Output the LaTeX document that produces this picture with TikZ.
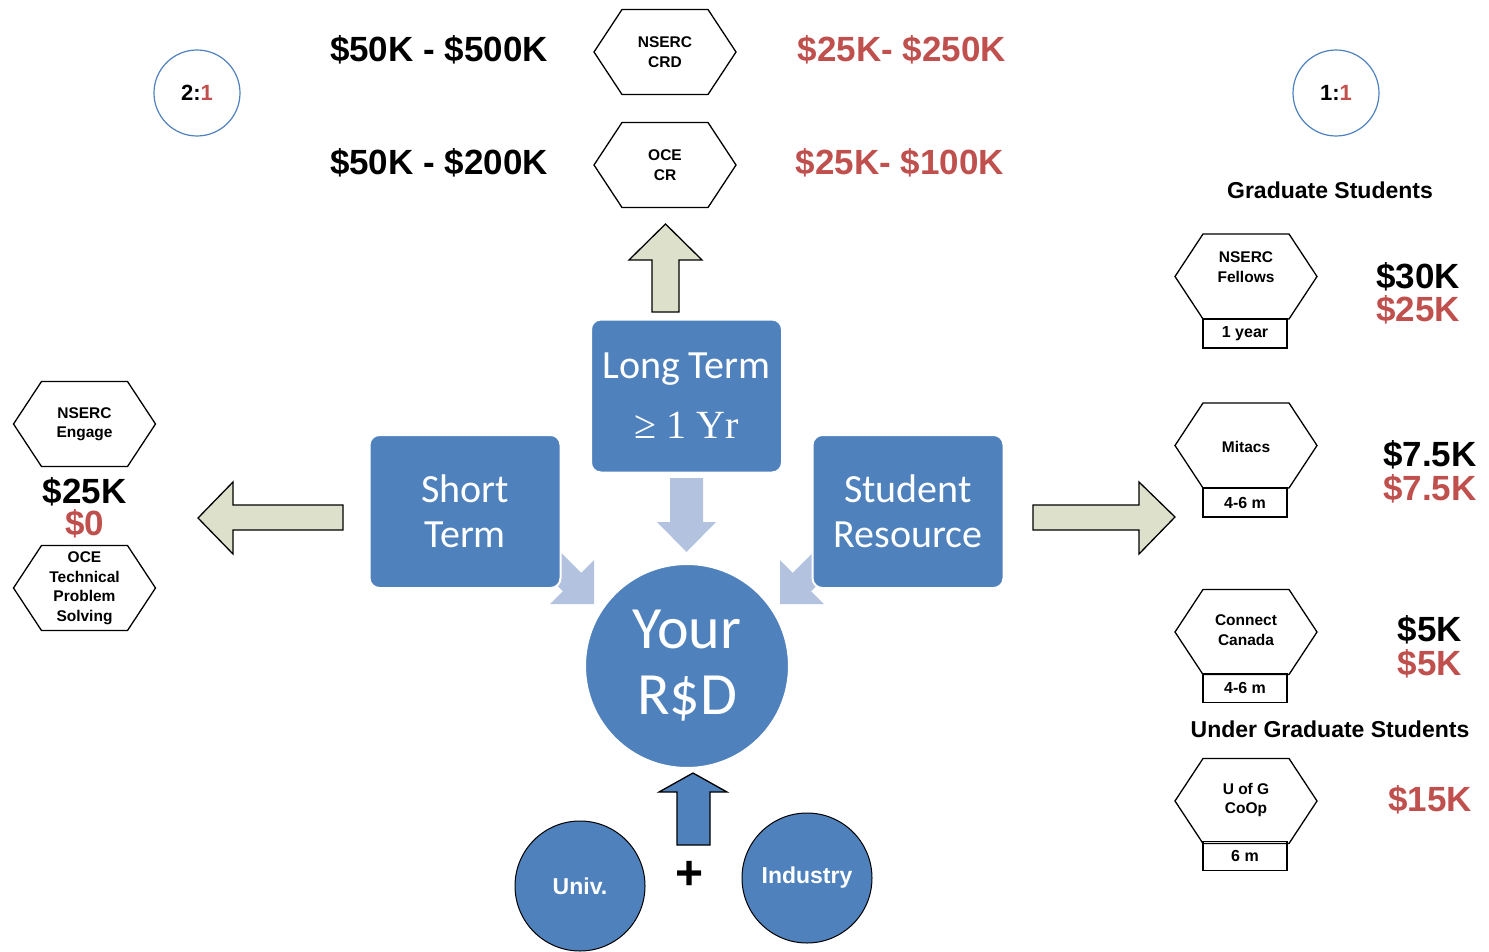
\documentclass[tikz,border=0pt]{standalone}
\usepackage{fontspec}
\setmainfont{Liberation Sans}
\newfontfamily\calib{Carlito}
\newfontfamily\tms{Liberation Serif}
\definecolor{sblue}{HTML}{4F81BD}
\definecolor{lblue}{HTML}{B3C3DF}
\definecolor{sred}{HTML}{C0504D}
\definecolor{sgreen}{HTML}{DDE0CA}
\newcommand\myhex[5]{%
  \draw[hexline] (#2,#3) ++(-71,0) -- ++(28,42.5) -- ++(86,0) -- ++(28,-42.5) -- ++(-28,-42.5) -- ++(-86,0) -- cycle;
  \node[hextext] (#1) at (#2,#3+#4) {#5};}
\begin{document}
\begin{tikzpicture}[x=1pt,y=1pt,
  big/.style={font=\fontsize{35}{40}\selectfont\bfseries, inner sep=0},
  bigred/.style={big, text=sred},
  hdr/.style={font=\fontsize{23}{27}\selectfont\bfseries, inner sep=0},
  hexline/.style={draw=black, line width=1.3, fill=white},
  hextext/.style={font=\fontsize{15.5}{19.5}\selectfont\bfseries, align=center, inner sep=0},
  durbox/.style={draw=black, line width=1.3, minimum width=84, minimum height=29, inner sep=0, font=\fontsize{16}{18}\selectfont\bfseries},
  ratio/.style={circle, draw=sblue, line width=1.2, minimum size=86, inner sep=0, font=\fontsize{22}{26}\selectfont\bfseries},
  bluebox/.style={rounded corners=10, fill=sblue, draw=white, line width=2, minimum width=191, minimum height=153, inner sep=0, text=white, align=center},
  bluecirc/.style={circle, fill=sblue, draw=black, line width=1, minimum size=130, inner sep=0, text=white, font=\fontsize{23}{27}\selectfont\bfseries},
  greenarrow/.style={fill=sgreen, draw=black, line width=1.3, line join=miter},
  lightarrow/.style={fill=lblue, draw=none},
  bluearrow/.style={fill=sblue, draw=black, line width=1.3, line join=miter}
]
\useasboundingbox (0,0) rectangle (1489,-952);

% ratio circles
\node[ratio] (r21) at (197,-93) {2:\textcolor{sred}{1}};
\node[ratio] (r11) at (1336,-93) {1:\textcolor{sred}{1}};

% top amounts and hexagons
\node[big] (crdA) at (439,-50) {\$50K - \$500K};
\node[big] (crA) at (439,-163) {\$50K - \$200K};
\myhex{crd}{665}{-52}{0}{NSERC\\CRD}
\myhex{cr}{665}{-165}{0}{OCE\\CR}
\node[bigred] (crdB) at (902,-50) {\$25K- \$250K};
\node[bigred] (crB) at (900,-163) {\$25K- \$100K};

% green up arrow
\draw[greenarrow] (652,-312) -- (652,-260) -- (629,-260) -- (665.5,-224) -- (702,-260) -- (679,-260) -- (679,-312) -- cycle;

% light arrows into the centre
\fill[lightarrow, shift={(594,-604)}, rotate=-45] (0,0) -- (-31,31) -- (-31,13) -- (-95,13) -- (-95,-13) -- (-31,-13) -- (-31,-31) -- cycle;
\fill[lightarrow, shift={(780,-604)}, rotate=-135] (0,0) -- (-31,31) -- (-31,13) -- (-95,13) -- (-95,-13) -- (-31,-13) -- (-31,-31) -- cycle;
\fill[lightarrow] (670,-478) -- (703,-478) -- (703,-522) -- (716,-522) -- (686.5,-552) -- (657,-522) -- (670,-522) -- cycle;

% blue boxes
\node[bluebox, font=\fontsize{40}{48}\selectfont] (long) at (686.5,-396) {{\calib Long Term}\\[12pt]{\tms ≥ 1 Yr}};
\node[bluebox, font=\calib\fontsize{40}{45}\selectfont] (short) at (465,-511.5) {Short\\Term};
\node[bluebox, font=\calib\fontsize{40}{45}\selectfont] (stud) at (908,-511.5) {Student\\Resource};

% centre circle
\node[circle, fill=sblue, draw=white, line width=2, minimum size=204, inner sep=0, text=white, align=center, font=\calib\fontsize{60}{66}\selectfont] (rsd) at (687,-666) {Your\\R\$D};

% bottom
\draw[bluearrow] (677,-845) -- (677,-792) -- (659,-792) -- (693,-773) -- (727,-792) -- (710,-792) -- (710,-845) -- cycle;
\node[font=\fontsize{48}{50}\selectfont\bfseries, inner sep=0] (plus) at (690,-875) {+};
\node[bluecirc] (univ) at (580,-886) {Univ.};
\node[bluecirc] (ind) at (807,-878) {Industry};

% left column
\myhex{eng}{84.5}{-424}{0}{NSERC\\Engage}
\node[big] (engA) at (84.5,-492) {\$25K};
\node[bigred] (engB) at (84.5,-524) {\$0};
\myhex{tps}{84.5}{-588}{0}{OCE\\Technical\\Problem\\Solving}
\draw[greenarrow] (343,-505) -- (233,-505) -- (233,-482) -- (198,-518) -- (233,-554) -- (233,-530) -- (343,-530) -- cycle;

% right arrow
\draw[greenarrow] (1033,-505) -- (1139,-505) -- (1139,-482) -- (1175,-517) -- (1139,-554) -- (1139,-530) -- (1033,-530) -- cycle;

% right column
\node[hdr] (grad) at (1330,-190) {Graduate Students};
\myhex{fel}{1246}{-276.5}{9.5}{NSERC\\Fellows}
\node[durbox] (felD) at (1245,-333.5) {1 year};
\node[big] (felA) at (1418,-277) {\$30K};
\node[bigred] (felB) at (1418,-310) {\$25K};

\myhex{mit}{1246}{-445.5}{-1.5}{Mitacs}
\node[durbox] (mitD) at (1245,-502.5) {4-6 m};
\node[big] (mitA) at (1430,-455) {\$7.5K};
\node[bigred] (mitB) at (1430,-489) {\$7.5K};

\myhex{cc}{1246}{-632}{2}{Connect\\Canada}
\node[durbox] (ccD) at (1245,-688) {4-6 m};
\node[big] (ccA) at (1430,-630) {\$5K};
\node[bigred] (ccB) at (1430,-664) {\$5K};

\node[hdr] (ugrad) at (1330,-729) {Under Graduate Students};
\myhex{coop}{1246}{-801}{1}{U of G\\CoOp}
\node[durbox] (coopD) at (1245,-856) {6 m};
\node[bigred] (coopA) at (1430,-800) {\$15K};
\end{tikzpicture}
\end{document}
